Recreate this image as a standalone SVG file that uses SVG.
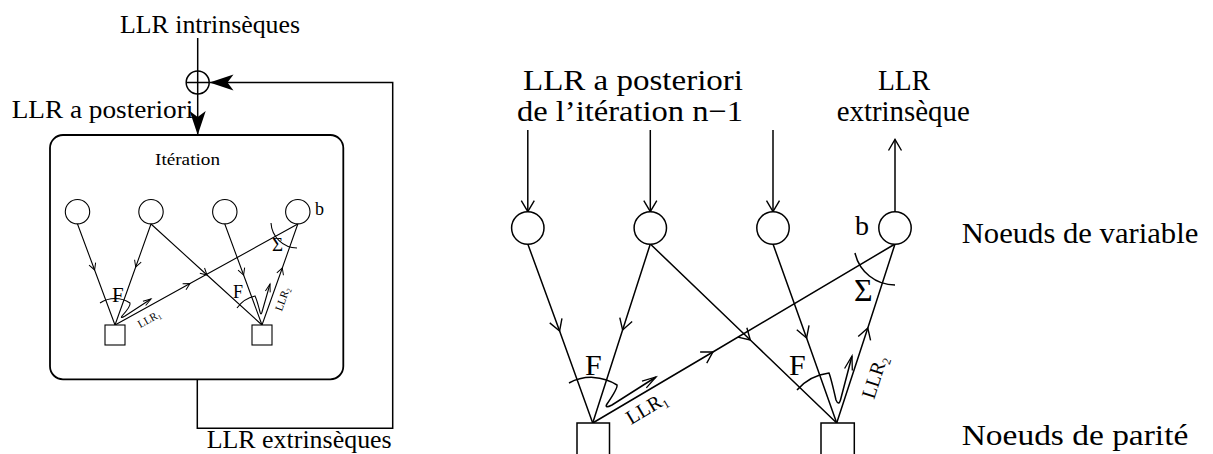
<svg xmlns="http://www.w3.org/2000/svg" width="1213" height="454" viewBox="0 0 1213 454" font-family="'Liberation Serif','Times New Roman',serif">
<style>
.ln{stroke:#000;fill:none;stroke-width:1.5}
.lt{stroke:#000;fill:none;stroke-width:1.1}
.nd{stroke:#000;fill:#fff;stroke-width:1.5}
.nds{stroke:#000;fill:#fff;stroke-width:1.1}
text{font-family:"Liberation Serif","Times New Roman",serif;fill:#000}
</style>
<defs>
<marker id="mv" markerUnits="userSpaceOnUse" orient="auto" overflow="visible" refX="0" refY="0" markerWidth="1" markerHeight="1"><path d="M-11,-6.5 L0,0 L-11,6.5" fill="none" stroke="#000" stroke-width="1.4"/></marker>
<marker id="mvs" markerUnits="userSpaceOnUse" orient="auto" overflow="visible" refX="0" refY="0" markerWidth="1" markerHeight="1"><path d="M-6.5,-3.5 L0,0 L-6.5,3.5" fill="none" stroke="#000" stroke-width="1"/></marker>
<marker id="mh" markerUnits="userSpaceOnUse" orient="auto" overflow="visible" refX="0" refY="0" markerWidth="1" markerHeight="1"><path d="M-14,-4 L0,0 L-14,4" fill="none" stroke="#000" stroke-width="1.3"/></marker>
<marker id="mhs" markerUnits="userSpaceOnUse" orient="auto" overflow="visible" refX="0" refY="0" markerWidth="1" markerHeight="1"><path d="M-8,-2.5 L0,0 L-8,2.5" fill="none" stroke="#000" stroke-width="1"/></marker>
<marker id="mf" markerUnits="userSpaceOnUse" orient="auto" overflow="visible" refX="0" refY="0" markerWidth="1" markerHeight="1"><path d="M0,0 L-24,-8 L-18,0 L-24,8 Z" fill="#000"/></marker>
</defs>

<!-- LEFT DIAGRAM -->
<g id="connectors-left">
<path class="ln" d="M197.7,38 V71"/>
<path class="ln" d="M197.7,94 V135" marker-end="url(#mf)"/>
<path class="ln" d="M197.3,379.3 V428.3 H392.7 V82.5 H209.5" marker-end="url(#mf)"/>
<path class="lt" d="M77.5,224 L94.6,270 L115,325" marker-mid="url(#mvs)"/>
<path class="lt" d="M151,224 L135.7,267 L115,325" marker-mid="url(#mvs)"/>
<path class="lt" d="M151,224 L207,275 L262,325" marker-mid="url(#mvs)"/>
<path class="lt" d="M115,325 L190,283.6 L297.8,224" marker-mid="url(#mvs)"/>
<path class="lt" d="M224.8,224 L243.6,275 L262,325" marker-mid="url(#mvs)"/>
<path class="lt" d="M262,325 L282.3,268 L297.8,224" marker-mid="url(#mvs)"/>
<path class="lt" d="M100,303 A27 27 0 0 1 130,303 Q131,306 122,316 Q120,319 125,316 L151,299" marker-end="url(#mhs)"/>
<path class="lt" d="M237,308 A30 30 0 0 1 255,296 Q257,300 260,312 Q261,316 262,312 L270,284" marker-end="url(#mhs)"/>
<path class="lt" d="M271,223 A26.5 26.5 0 0 0 297,248"/>
</g>
<g id="sum-node">
<circle class="ln" cx="197.7" cy="82.5" r="11.5" fill="none"/>
<path class="ln" d="M186.2,82.5 H209.2 M197.7,71 V94"/>
</g>
<g id="iteration-box">
<rect x="50" y="135" width="293.3" height="244.3" rx="13" ry="13" fill="none" stroke="#000" stroke-width="1.8"/>
<text x="155" y="165" font-size="17" textLength="65" lengthAdjust="spacingAndGlyphs">Itération</text>
</g>
<g id="left-var-nodes">
<circle class="nds" cx="77.5" cy="211.7" r="12.2"/>
<circle class="nds" cx="151" cy="211.7" r="12.2"/>
<circle class="nds" cx="224.8" cy="211.7" r="12.2"/>
<circle class="nds" cx="297.8" cy="211.7" r="12.2"/>
<text x="315" y="215" font-size="18">b</text>
</g>
<g id="left-check-nodes">
<rect class="nds" x="105" y="325" width="20" height="20"/>
<rect class="nds" x="252" y="325" width="20" height="20"/>
</g>
<g id="left-labels">
<text x="112" y="301.5" font-size="21">F</text>
<text x="233" y="298" font-size="18">F</text>
<text x="272" y="251" font-size="19">Σ</text>
<text transform="translate(140.3,328.3) rotate(-29)" font-size="11">LLR<tspan font-size="7" dy="2">1</tspan></text>
<text transform="translate(281.7,311.7) rotate(-70)" font-size="11">LLR<tspan font-size="7" dy="2">2</tspan></text>
<text x="120" y="33" font-size="25" textLength="180" lengthAdjust="spacingAndGlyphs">LLR intrinsèques</text>
<text x="11.7" y="118" font-size="25" textLength="181.6" lengthAdjust="spacingAndGlyphs">LLR a posteriori</text>
<text x="206.7" y="448" font-size="25" textLength="185" lengthAdjust="spacingAndGlyphs">LLR extrinsèques</text>
</g>

<!-- RIGHT DIAGRAM -->
<g id="connectors-right">
<path class="ln" d="M527.8,130 V211.7" marker-end="url(#mv)"/>
<path class="ln" d="M650.3,130 V211.7" marker-end="url(#mv)"/>
<path class="ln" d="M773,130 V211.7" marker-end="url(#mv)"/>
<path class="ln" d="M895,211.7 V139.5" marker-end="url(#mv)"/>
<path class="ln" d="M527.8,244 L559.6,331 L592.7,423" marker-mid="url(#mv)"/>
<path class="ln" d="M650.3,244 L622.6,330 L592.7,423" marker-mid="url(#mv)"/>
<path class="ln" d="M650.3,244 L750.3,340 L836.7,423" marker-mid="url(#mv)"/>
<path class="ln" d="M592.7,423 L712.9,352 L895,244" marker-mid="url(#mv)"/>
<path class="ln" d="M773,244 L806.6,338 L836.7,423" marker-mid="url(#mv)"/>
<path class="ln" d="M836.7,423 L867.8,328 L895,244" marker-mid="url(#mv)"/>
<path class="ln" d="M569,383 A47 47 0 0 1 617,385 Q618,388 607,404 Q604,409 612,405 L656,377" marker-end="url(#mh)"/>
<path class="ln" d="M797,390 A51 51 0 0 1 829,373 Q831,378 836,400 Q839,407 841,398 L852,356" marker-end="url(#mh)"/>
<path class="ln" d="M855,253 A41 41 0 0 0 895,285"/>
</g>
<g id="right-var-nodes">
<circle class="nd" cx="527.8" cy="228" r="16.2"/>
<circle class="nd" cx="650.3" cy="228" r="16.2"/>
<circle class="nd" cx="773" cy="228" r="16.2"/>
<circle class="nd" cx="895" cy="228" r="16.2"/>
<text x="855" y="235" font-size="28">b</text>
</g>
<g id="right-check-nodes">
<rect class="nd" x="577" y="423" width="32.5" height="40"/>
<rect class="nd" x="821" y="423" width="33.3" height="40"/>
</g>
<g id="right-labels">
<text x="585" y="375" font-size="30">F</text>
<text x="789" y="375" font-size="30">F</text>
<text x="854" y="301" font-size="32">Σ</text>
<text transform="translate(631,425) rotate(-31)" font-size="20">LLR<tspan font-size="12" dy="4">1</tspan></text>
<text transform="translate(874,400) rotate(-72)" font-size="20">LLR<tspan font-size="12" dy="4">2</tspan></text>
<text x="523" y="90" font-size="30" textLength="220" lengthAdjust="spacingAndGlyphs">LLR a posteriori</text>
<text x="517" y="121" font-size="30" textLength="226" lengthAdjust="spacingAndGlyphs">de l’itération n−1</text>
<text x="878" y="90" font-size="29" textLength="52" lengthAdjust="spacingAndGlyphs">LLR</text>
<text x="836.7" y="121" font-size="30" textLength="133" lengthAdjust="spacingAndGlyphs">extrinsèque</text>
<text x="961.7" y="243.3" font-size="30" textLength="236.6" lengthAdjust="spacingAndGlyphs">Noeuds de variable</text>
<text x="961.7" y="445" font-size="30" textLength="226.6" lengthAdjust="spacingAndGlyphs">Noeuds de parité</text>
</g>
</svg>
